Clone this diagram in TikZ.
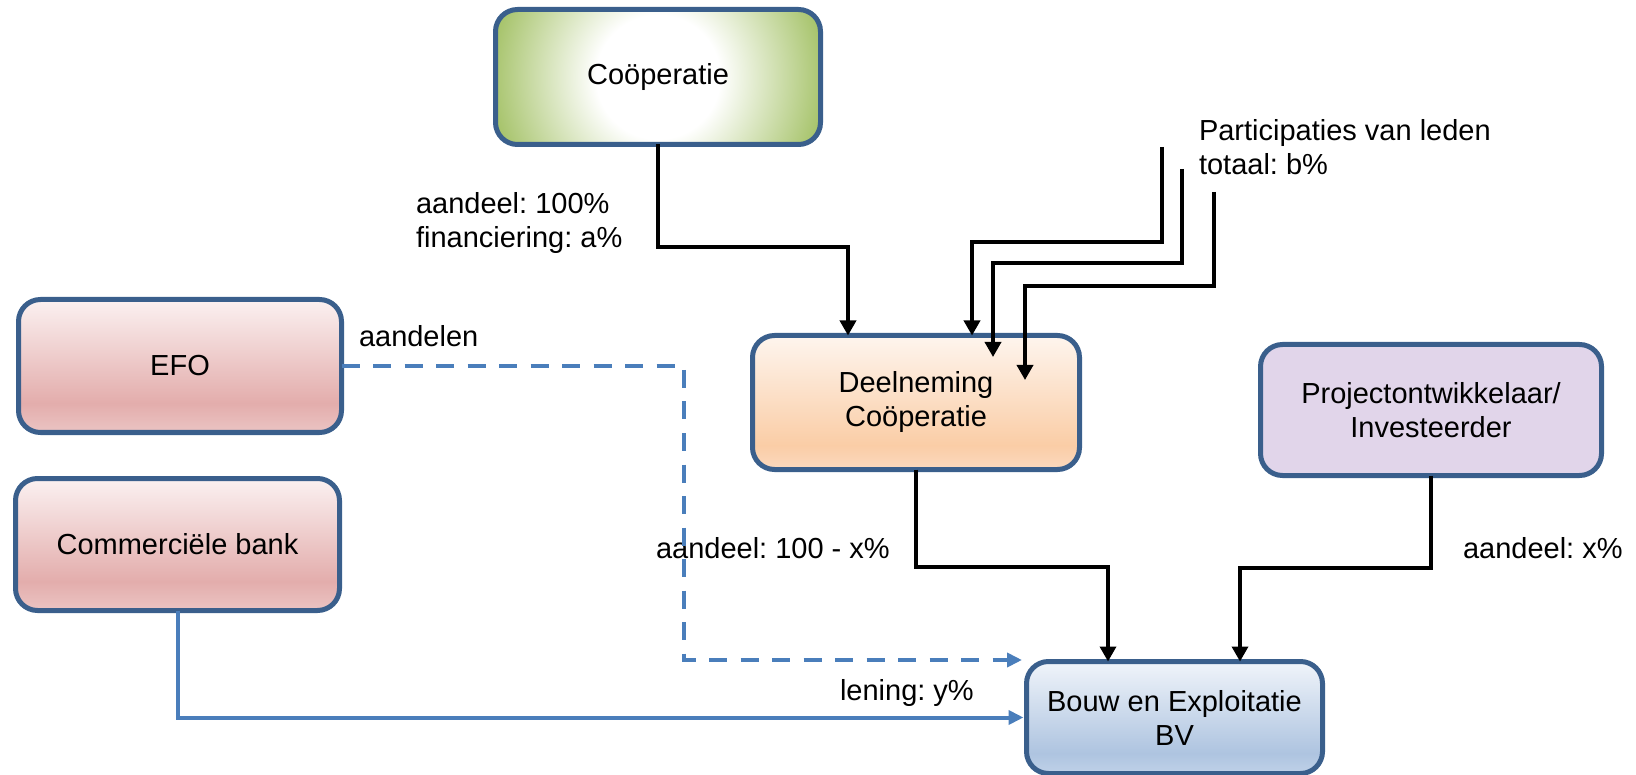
\documentclass[tikz,border=0pt]{standalone}
\usepackage{fontspec}
\setmainfont{Liberation Sans}
\usetikzlibrary{arrows.meta,calc}
\frenchspacing
\definecolor{bordercol}{HTML}{3A5F8C}
\definecolor{lineblue}{HTML}{4A7EBB}
\definecolor{coopgreen}{HTML}{A3C165}
\definecolor{efoT}{HTML}{FBF1F1}
\definecolor{efoM}{HTML}{E3ADAC}
\definecolor{efoB}{HTML}{EBC4C3}
\definecolor{deelT}{HTML}{FEF5EE}
\definecolor{deelM}{HTML}{FACDA6}
\definecolor{deelB}{HTML}{FBD9BE}
\definecolor{bvT}{HTML}{F0F4FA}
\definecolor{bvM}{HTML}{AEC4E0}
\definecolor{bvB}{HTML}{BFD1E8}
\definecolor{projfill}{HTML}{E1D5EA}
\pgfdeclareradialshading{coopshade}{\pgfpoint{0bp}{0bp}}{color(0bp)=(white); color(9bp)=(white); color(25bp)=(coopgreen); color(50bp)=(coopgreen)}
\pgfdeclareverticalshading{efoshade}{100bp}{color(0bp)=(efoB); color(25bp)=(efoB); color(36bp)=(efoM); color(75bp)=(efoT); color(100bp)=(efoT)}
\pgfdeclareverticalshading{deelshade}{100bp}{color(0bp)=(deelB); color(25bp)=(deelB); color(34bp)=(deelM); color(75bp)=(deelT); color(100bp)=(deelT)}
\pgfdeclareverticalshading{bvshade}{100bp}{color(0bp)=(bvB); color(25bp)=(bvB); color(34bp)=(bvM); color(75bp)=(bvT); color(100bp)=(bvT)}
\tikzset{
  box/.style={draw=bordercol, line width=5pt, rounded corners=22pt, align=center,
    inner sep=0pt, outer sep=0pt, font=\fontsize{29}{34}\selectfont},
  lbl/.style={anchor=base west, inner sep=0pt, outer sep=0pt, font=\fontsize{29}{34}\selectfont},
  blk/.style={draw=black, line width=3.5pt, -{Triangle[width=16pt,length=15pt]}},
  blu/.style={draw=lineblue, line width=4pt, -{Triangle[width=14pt,length=15pt]}},
  bludash/.style={blu, dash pattern=on 18pt off 13.5pt}
}
\begin{document}
\begin{tikzpicture}[x=1pt,y=-1pt]
\useasboundingbox (0,0) rectangle (1636,775);
% boxes
\node[box, minimum width=325pt, minimum height=135pt,
  path picture={\shade[shading=coopshade] (path picture bounding box.center) circle[radius=172pt];}]
  (coop) at (658,77) {Coöperatie};
\node[box, shade, shading=efoshade, minimum width=323pt, minimum height=133pt] (efo) at (180,366) {EFO};
\node[box, shade, shading=efoshade, minimum width=324pt, minimum height=132pt] (bank) at (177.5,544.5) {Commerciële bank};
\node[box, shade, shading=deelshade, minimum width=327pt, minimum height=134pt] (deel) at (916,402.5) {Deelneming\\Coöperatie};
\node[box, fill=projfill, minimum width=341pt, minimum height=131pt] (proj) at (1431,410) {Projectontwikkelaar/\\Investeerder};
\node[box, shade, shading=bvshade, minimum width=296pt, minimum height=112pt] (bv) at (1174.5,717.5) {Bouw en Exploitatie\\BV};
% labels
\node[lbl] (l1a) at (416,214) {aandeel: 100\%};
\node[lbl] (l1b) at (416,248) {financiering: a\%};
\node[lbl] (l2a) at (1199,141) {Participaties van leden};
\node[lbl] (l2b) at (1199,175) {totaal: b\%};
\node[lbl] (l3) at (359,347) {aandelen};
\node[lbl] (l4) at (656,558) {aandeel: 100 - x\%};
\node[lbl] (l5) at (1463,558) {aandeel: x\%};
\node[lbl] (l6) at (840,700) {lening: y\%};
% coordinates
\coordinate (c1) at (848,247);
\coordinate (p1) at (1162,147);
\coordinate (q1) at (972,242);
\coordinate (p2) at (1182,169);
\coordinate (q2) at (993,263);
\coordinate (e2) at (993,357);
\coordinate (p3) at (1214,192);
\coordinate (q3) at (1025,286);
\coordinate (e3) at (1025,380);
\coordinate (c4) at (1108,567);
\coordinate (c5) at (1240,568);
\coordinate (c7) at (684,660);
\coordinate (c8) at (1022,660);
% connectors
\draw[blk] (coop.south) |- (c1) -- (c1 |- deel.north);
\draw[blk] (p1) |- (q1) -- (q1 |- deel.north);
\draw[blk] (p2) |- (q2) -- (e2);
\draw[blk] (p3) |- (q3) -- (e3);
\draw[blk] (deel.south) |- (c4) -- (c4 |- bv.north);
\draw[blk] (proj.south) |- (c5) -- (c5 |- bv.north);
\draw[bludash] (efo.east) -| (c7) -- (c8);
\draw[blu] (bank.south) |- ($(bv.west)+(-3,0)$);
\end{tikzpicture}
\end{document}
